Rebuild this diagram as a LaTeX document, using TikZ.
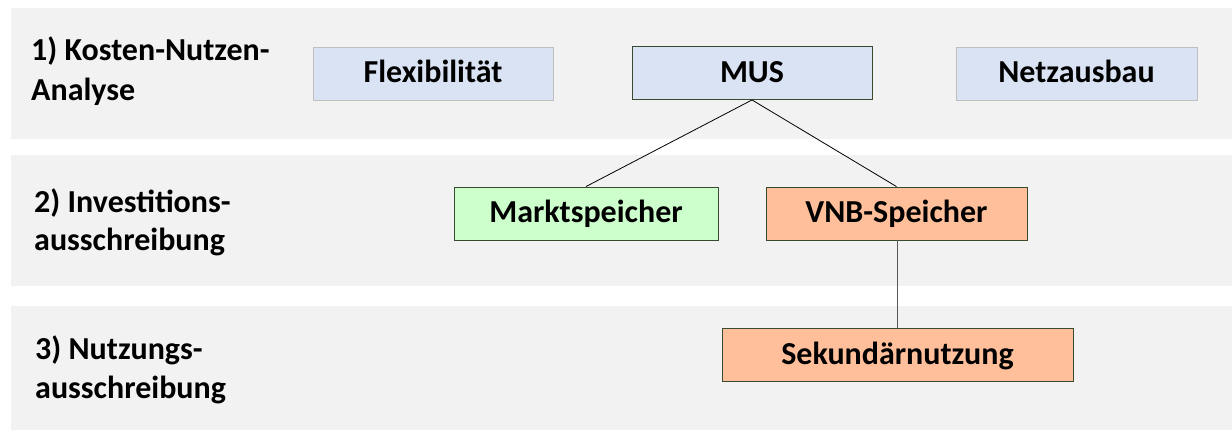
\documentclass[tikz,border=0pt]{standalone}
\usepackage{fontspec}
\setmainfont{Carlito}
\definecolor{band}{HTML}{F2F2F2}
\definecolor{bluebox}{HTML}{DAE3F3}
\definecolor{greenbox}{HTML}{CCFFCC}
\definecolor{orangebox}{HTML}{FFBF9B}
\definecolor{darkedge}{HTML}{3A4A2E}
\definecolor{grayedge}{HTML}{BFBFBF}
\tikzset{
  bandbox/.style={fill=band, draw=none},
  blk/.style={draw=darkedge, line width=0.9pt, minimum height=53pt, inner sep=0pt, text height=22pt, text depth=4pt, font=\bfseries\fontsize{32}{36}\selectfont},
  lbl/.style={anchor=base west, inner sep=0pt, font=\bfseries\fontsize{32}{36}\selectfont},
  conn/.style={line width=0.8pt}
}
\begin{document}
\begin{tikzpicture}[x=1pt,y=-1pt]
\useasboundingbox (0,0) rectangle (1232,431);
\fill[bandbox] (11,8) rectangle (1232,139);
\fill[bandbox] (11,155) rectangle (1232,286);
\fill[bandbox] (11,306) rectangle (1232,430);
\node[lbl] (l1a) at (31,60) {1) Kosten-Nutzen-};
\node[lbl] (l1b) at (31,100) {Analyse};
\node[lbl] (l2a) at (34,212) {2) Investitions-};
\node[lbl] (l2b) at (34,250) {ausschreibung};
\node[lbl] (l3a) at (35,359) {3) Nutzungs-};
\node[lbl] (l3b) at (35,398) {ausschreibung};
\node[blk, fill=bluebox, draw=grayedge, minimum width=240pt] (flex) at (433,73.5) {Flexibilität};
\node[blk, fill=bluebox, minimum width=240pt] (mus) at (752,73) {MUS};
\node[blk, fill=bluebox, draw=grayedge, minimum width=241pt] (netz) at (1076.5,73.5) {Netzausbau};
\node[blk, fill=greenbox, minimum width=264pt] (markt) at (586,213.5) {Marktspeicher};
\node[blk, fill=orangebox, minimum width=261pt] (vnb) at (896.5,213.5) {VNB-Speicher};
\node[blk, fill=orangebox, minimum width=351pt] (sek) at (897.5,355) {Sekundärnutzung};
\draw[conn] (mus.south) -- (markt.north);
\draw[conn] (mus.south) -- (vnb.north);
\draw[conn, draw=black!65] (vnb.south -| sek.north) -- (sek.north);
\end{tikzpicture}
\end{document}
